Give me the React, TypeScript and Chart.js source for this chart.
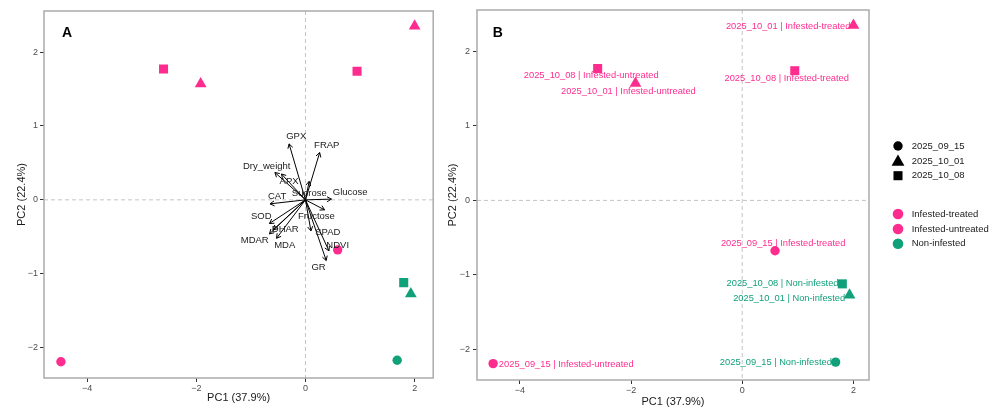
import React, { useEffect, useRef } from 'react';
import { Chart, registerables } from 'chart.js';

Chart.register(...registerables);

const FONT = '"Liberation Sans", Arial, Helvetica, sans-serif';
const PINK = '#FF2C8F';
const GREEN = '#10A07A';

// ---- sample scores ----
const sampleDates = ['2025_09_15', '2025_09_15', '2025_09_15', '2025_10_01', '2025_10_01', '2025_10_01', '2025_10_08', '2025_10_08', '2025_10_08'];
const sampleGroups = ['Infested-treated', 'Infested-untreated', 'Non-infested', 'Infested-treated', 'Infested-untreated', 'Non-infested', 'Infested-treated', 'Infested-untreated', 'Non-infested'];
const pc1Scores = [0.59, -4.48, 1.68, 2.0, -1.92, 1.93, 0.945, -2.6, 1.8];
const pc2Scores = [-0.676, -2.19, -2.17, 2.35, 1.57, -1.27, 1.74, 1.77, -1.12];
const sampleLabelX = [0.736, -3.165, 0.605, 0.826, -2.047, 0.844, 0.8, -2.716, 0.725];
const sampleLabelY = [-0.578, -2.2, -2.177, 2.333, 1.46, -1.318, 1.64, 1.675, -1.12];

const dateLevels = ['2025_09_15', '2025_10_01', '2025_10_08'];
const dateShapes = ['circle', 'triangle', 'rect'];
const groupLevels = ['Infested-treated', 'Infested-untreated', 'Non-infested'];
const groupColors = [PINK, PINK, GREEN];

// ---- variable loadings ----
const variableNames = ['GPX', 'FRAP', 'Dry_weight', 'APX', 'Sucrose', 'Glucose', 'CAT', 'Fructose', 'SOD', 'DHAR', 'SPAD', 'MDAR', 'MDA', 'NDVI', 'GR'];
const loadingPC1 = [-0.3, 0.26, -0.56, -0.44, 0.067, 0.475, -0.65, 0.35, -0.66, -0.59, 0.1, -0.66, -0.53, 0.43, 0.38];
const loadingPC2 = [0.757, 0.64, 0.37, 0.35, 0.25, 0.01, -0.054, -0.135, -0.32, -0.405, -0.42, -0.46, -0.52, -0.69, -0.82];
const variableLabelX = [-0.17, 0.39, -0.71, -0.3, 0.07, 0.82, -0.52, 0.2, -0.81, -0.37, 0.41, -0.93, -0.38, 0.59, 0.24];
const variableLabelY = [0.86, 0.74, 0.45, 0.25, 0.09, 0.1, 0.045, -0.22, -0.23, -0.4, -0.44, -0.55, -0.61, -0.61, -0.91];

const xTicksTitle = 'PC1 (37.9%)';
const yTicksTitle = 'PC2 (22.4%)';

const shapeOf = (d: string) => dateShapes[dateLevels.indexOf(d)];
const colorOf = (g: string) => groupColors[groupLevels.indexOf(g)];
const radiusOf = (s: string) => (s === 'circle' ? 4.7 : s === 'triangle' ? 6.8 : 6.4);

function drawShape(ctx: CanvasRenderingContext2D, shape: string, x: number, y: number, r: number) {
  ctx.beginPath();
  if (shape === 'circle') {
    ctx.arc(x, y, r, 0, Math.PI * 2);
  } else if (shape === 'triangle') {
    ctx.moveTo(x, y - r);
    ctx.lineTo(x + r * Math.sin(Math.PI / 3), y + r / 2);
    ctx.lineTo(x - r * Math.sin(Math.PI / 3), y + r / 2);
    ctx.closePath();
  } else {
    const s = r * Math.SQRT1_2;
    ctx.rect(x - s, y - s, 2 * s, 2 * s);
  }
  ctx.fill();
}

const fmt = (v: number) => (v < 0 ? '\u2212' + Math.abs(v) : String(v));

type PanelCfg = {
  letter: string;
  xMin: number;
  xMax: number;
  padding: { top: number; right: number; left: number; bottom: number };
  yWidth: number;
  xHeight: number;
  xTitlePad: number;
  yTitlePad: number;
  yTickPad: number;
  letterX: number;
};

function buildConfig(p: PanelCfg): any {
  const plugin = {
    id: 'biplot' + p.letter,
    beforeDatasetsDraw(chart: any) {
      const { ctx, chartArea: a, scales } = chart;
      const x0 = scales.x.getPixelForValue(0);
      const y0 = scales.y.getPixelForValue(0);
      ctx.save();
      ctx.strokeStyle = '#c4c4c4';
      ctx.lineWidth = 1;
      ctx.setLineDash([4, 3]);
      ctx.beginPath();
      ctx.moveTo(x0, a.top);
      ctx.lineTo(x0, a.bottom);
      ctx.moveTo(a.left, y0);
      ctx.lineTo(a.right, y0);
      ctx.stroke();
      ctx.restore();
    },
    afterDatasetsDraw(chart: any) {
      const { ctx, scales } = chart;
      const xs = scales.x;
      const ys = scales.y;
      ctx.save();
      if (p.letter === 'A') {
        const ox = xs.getPixelForValue(0);
        const oy = ys.getPixelForValue(0);
        ctx.strokeStyle = '#000';
        ctx.lineWidth = 1;
        for (let i = 0; i < variableNames.length; i++) {
          const tx = xs.getPixelForValue(loadingPC1[i]);
          const ty = ys.getPixelForValue(loadingPC2[i]);
          ctx.beginPath();
          ctx.moveTo(ox, oy);
          ctx.lineTo(tx, ty);
          const ang = Math.atan2(ty - oy, tx - ox);
          const h = 5;
          ctx.moveTo(tx - h * Math.cos(ang - Math.PI / 6), ty - h * Math.sin(ang - Math.PI / 6));
          ctx.lineTo(tx, ty);
          ctx.lineTo(tx - h * Math.cos(ang + Math.PI / 6), ty - h * Math.sin(ang + Math.PI / 6));
          ctx.stroke();
        }
        ctx.font = `9.5px ${FONT}`;
        ctx.fillStyle = '#1a1a1a';
        ctx.textAlign = 'center';
        ctx.textBaseline = 'middle';
        for (let i = 0; i < variableNames.length; i++) {
          ctx.fillText(variableNames[i], xs.getPixelForValue(variableLabelX[i]), ys.getPixelForValue(variableLabelY[i]));
        }
      } else {
        ctx.font = `9.3px ${FONT}`;
        ctx.textAlign = 'center';
        ctx.textBaseline = 'middle';
        for (let i = 0; i < sampleDates.length; i++) {
          ctx.fillStyle = colorOf(sampleGroups[i]);
          ctx.fillText(
            sampleDates[i] + ' | ' + sampleGroups[i],
            xs.getPixelForValue(sampleLabelX[i]),
            ys.getPixelForValue(sampleLabelY[i])
          );
        }
      }
      ctx.restore();
    },
    afterDraw(chart: any) {
      const { ctx, chartArea: a } = chart;
      ctx.save();
      ctx.strokeStyle = '#ababab';
      ctx.lineWidth = 1.5;
      ctx.strokeRect(a.left, a.top, a.right - a.left, a.bottom - a.top);
      ctx.font = `bold 14px ${FONT}`;
      ctx.fillStyle = '#000';
      ctx.textAlign = 'center';
      ctx.textBaseline = 'middle';
      ctx.fillText(p.letter, p.letterX, 33);
      if (p.letter === 'B') {
        const sx = 458;
        const tx = 471.7;
        ctx.font = `9.5px ${FONT}`;
        ctx.textAlign = 'left';
        const rowsShape = [146, 161, 175.7];
        for (let i = 0; i < dateLevels.length; i++) {
          ctx.fillStyle = '#000';
          const s = dateShapes[i];
          drawShape(ctx, s, sx, rowsShape[i] + (s === 'triangle' ? 1 : 0), s === 'circle' ? 4.7 : s === 'triangle' ? 7.4 : 6.4);
          ctx.fillStyle = '#1a1a1a';
          ctx.fillText(dateLevels[i], tx, rowsShape[i]);
        }
        const rowsCol = [214, 229, 243.7];
        for (let i = 0; i < groupLevels.length; i++) {
          ctx.fillStyle = groupColors[i];
          drawShape(ctx, 'circle', sx, rowsCol[i], 5.3);
          ctx.fillStyle = '#1a1a1a';
          ctx.fillText(groupLevels[i], tx, rowsCol[i]);
        }
      }
      ctx.restore();
    },
  };

  const tickFont = { family: FONT, size: 9 };
  const titleFont = { family: FONT, size: 11 };

  return {
    type: 'scatter',
    data: {
      datasets: [
        {
          data: pc1Scores.map((v, i) => ({ x: v, y: pc2Scores[i] })),
          pointStyle: sampleDates.map(shapeOf),
          pointRadius: sampleDates.map((d) => radiusOf(shapeOf(d))),
          pointBackgroundColor: sampleGroups.map(colorOf),
          pointBorderColor: sampleGroups.map(colorOf),
          pointBorderWidth: 0,
        },
      ],
    },
    options: {
      responsive: false,
      animation: false,
      events: [],
      layout: { padding: p.padding },
      plugins: { legend: { display: false }, tooltip: { enabled: false } },
      scales: {
        x: {
          type: 'linear',
          min: p.xMin,
          max: p.xMax,
          afterFit: (s: any) => {
            s.height = p.xHeight;
          },
          ticks: {
            stepSize: 2,
            includeBounds: false,
            font: tickFont,
            color: '#4d4d4d',
            padding: 1,
            maxRotation: 0,
            callback: (v: any) => fmt(Number(v)),
          },
          grid: { drawOnChartArea: false, drawTicks: true, tickLength: 4, color: '#333333', lineWidth: 1 },
          border: { display: false },
          title: { display: true, text: xTicksTitle, font: titleFont, color: '#1a1a1a', padding: { top: 0, bottom: p.xTitlePad } },
        },
        y: {
          type: 'linear',
          min: -2.41,
          max: 2.555,
          afterFit: (s: any) => {
            s.width = p.yWidth;
          },
          ticks: {
            stepSize: 1,
            includeBounds: false,
            font: tickFont,
            color: '#4d4d4d',
            padding: p.yTickPad,
            callback: (v: any) => fmt(Number(v)),
          },
          grid: { drawOnChartArea: false, drawTicks: true, tickLength: 4, color: '#333333', lineWidth: 1 },
          border: { display: false },
          title: { display: true, text: yTicksTitle, font: titleFont, color: '#1a1a1a', padding: { top: p.yTitlePad, bottom: 0 } },
        },
      },
    },
    plugins: [plugin],
  };
}

const panelA: PanelCfg = {
  letter: 'A',
  xMin: -4.79,
  xMax: 2.34,
  padding: { top: 11, right: 6, left: 0, bottom: 0 },
  yWidth: 44,
  xHeight: 32,
  xTitlePad: 5.4,
  yTitlePad: 15.4,
  yTickPad: 2,
  letterX: 67,
};

const panelB: PanelCfg = {
  letter: 'B',
  xMin: -4.77,
  xMax: 2.28,
  padding: { top: 10, right: 128, left: 0, bottom: 0 },
  yWidth: 37,
  xHeight: 30,
  xTitlePad: 1.7,
  yTitlePad: 6.4,
  yTickPad: 3,
  letterX: 57.7,
};

export default function App() {
  const refA = useRef<HTMLCanvasElement>(null);
  const refB = useRef<HTMLCanvasElement>(null);
  useEffect(() => {
    document.body.style.margin = '0';
    const a = new Chart(refA.current as HTMLCanvasElement, buildConfig(panelA));
    const b = new Chart(refB.current as HTMLCanvasElement, buildConfig(panelB));
    return () => {
      a.destroy();
      b.destroy();
    };
  }, []);
  return (
    <div style={{ position: 'absolute', left: 0, top: 0, width: 997, height: 410, background: '#fff' }}>
      <canvas ref={refA} width={440} height={410} style={{ position: 'absolute', left: 0, top: 0 }} />
      <canvas ref={refB} width={557} height={410} style={{ position: 'absolute', left: 440, top: 0 }} />
    </div>
  );
}
